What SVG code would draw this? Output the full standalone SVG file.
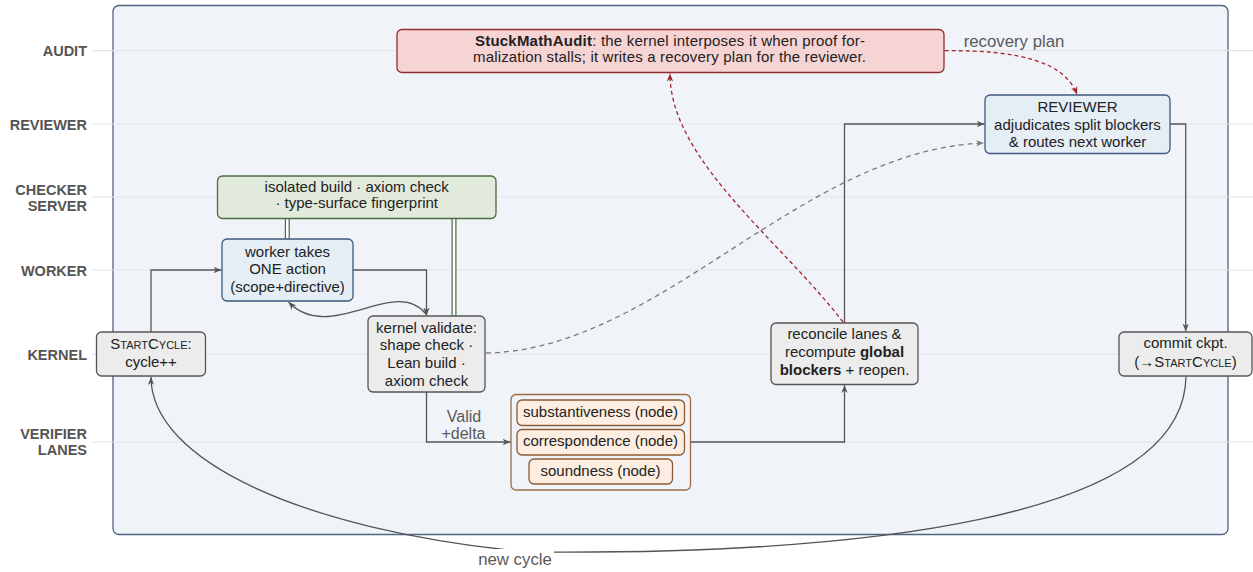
<svg xmlns="http://www.w3.org/2000/svg" width="1253" height="572" viewBox="0 0 1253 572">
<style>
text{font-family:"Liberation Sans",Arial,sans-serif;font-size:15px;fill:#222}
.lane{font-size:14.5px;font-weight:bold;fill:#555;text-anchor:end}
.c{text-anchor:middle}
.b{font-weight:bold}
.sc{font-variant:small-caps}
.lbl{fill:#5a5a5a;font-size:16.8px}
.vl{font-size:16px}
.laneline{stroke:#e2e4e8;stroke-width:1.2}
.conn{fill:none;stroke:#555;stroke-width:1.3}
.gdash{fill:none;stroke:#7a7a7a;stroke-width:1.3;stroke-dasharray:5 4}
.rdash{fill:none;stroke:#a3262a;stroke-width:1.3;stroke-dasharray:4 3}
.gray{fill:#ececec;stroke:#555;stroke-width:1.3}
.blue{fill:#e5edf5;stroke:#3e5a7e;stroke-width:1.3}
.green{fill:#e2eadc;stroke:#4b6b40;stroke-width:1.3}
.red{fill:#f7d4d4;stroke:#8f2f2f;stroke-width:1.3}
.org{fill:#fdeee1;stroke:#8c5a30;stroke-width:1.3}
.dbl1{stroke:#4b6b40;stroke-width:5;fill:none}
.dbl2{stroke:#ffffff;stroke-width:2.6;fill:none}
</style>
<defs>
<marker id="ag" viewBox="0 0 10 10" refX="10" refY="5" markerWidth="8" markerHeight="8" markerUnits="userSpaceOnUse" orient="auto"><path d="M0,1 L10,5 L0,9 L3,5 z" fill="#555"/></marker>
<marker id="ad" viewBox="0 0 10 10" refX="10" refY="5" markerWidth="8" markerHeight="8" markerUnits="userSpaceOnUse" orient="auto"><path d="M0,1 L10,5 L0,9 L3,5 z" fill="#7a7a7a"/></marker>
<marker id="ar" viewBox="0 0 10 10" refX="10" refY="5" markerWidth="8" markerHeight="8" markerUnits="userSpaceOnUse" orient="auto"><path d="M0,1 L10,5 L0,9 L3,5 z" fill="#a3262a"/></marker>
</defs>
<rect width="1253" height="572" fill="#ffffff"/>
<g id="panel">
<rect x="113" y="5.5" width="1115" height="529" rx="6" fill="#f0f4f9" stroke="#4d6482" stroke-width="1.3"/>
</g>
<g id="lanes">
<line class="laneline" x1="92" y1="50.7" x2="1253" y2="50.7"/>
<line class="laneline" x1="92" y1="124" x2="1253" y2="124"/>
<line class="laneline" x1="92" y1="197" x2="1253" y2="197"/>
<line class="laneline" x1="92" y1="270" x2="1253" y2="270"/>
<line class="laneline" x1="92" y1="354" x2="1253" y2="354"/>
<line class="laneline" x1="92" y1="442" x2="1253" y2="442"/>
<text class="lane" x="87" y="56.2">AUDIT</text>
<text class="lane" x="87" y="129.5">REVIEWER</text>
<text class="lane" x="87" y="195">CHECKER</text>
<text class="lane" x="87" y="211">SERVER</text>
<text class="lane" x="87" y="275.5">WORKER</text>
<text class="lane" x="87" y="359.5">KERNEL</text>
<text class="lane" x="87" y="439.3">VERIFIER</text>
<text class="lane" x="87" y="455.3">LANES</text>
</g>
<g id="connectors">
<path class="dbl1" d="M287.3,218.5 V239"/><path class="dbl2" d="M287.3,218.5 V239"/>
<path class="dbl1" d="M454,218.5 V316"/><path class="dbl2" d="M454,218.5 V316"/>
<path class="conn" d="M151,332 V270 H221.5" marker-end="url(#ag)"/>
<path class="conn" d="M353,270 H426.5 V315.5" marker-end="url(#ag)"/>
<path class="conn" d="M426,314 C395,275 330,345 288.5,302" marker-end="url(#ag)"/>
<path class="conn" d="M426.5,392 V442 H510.5" marker-end="url(#ag)"/>
<text class="c lbl vl" x="464" y="421.8">Valid</text>
<text class="c lbl vl" x="463.5" y="438.6">+delta</text>
<path class="conn" d="M690.5,442 H844.5 V385" marker-end="url(#ag)"/>
<path class="conn" d="M844.5,323 V124 H984.5" marker-end="url(#ag)"/>
<path class="conn" d="M1170,124 H1185.7 V331.5" marker-end="url(#ag)"/>
<path class="gdash" d="M486,353 C660,350 800,150 984,143" marker-end="url(#ad)"/>
<path class="rdash" d="M843,322 C780,240 670,160 670,73.5" marker-end="url(#ar)"/>
<path class="rdash" d="M944.5,50.7 C1020,50 1065,62 1077,94.5" marker-end="url(#ar)"/>
<text class="c lbl" x="1014" y="46.7">recovery plan</text>
<path class="conn" d="M1186,376.5 C1184,520 860,555 527,552 C300,530 151,460 151,377" marker-end="url(#ag)"/>
<rect x="476" y="549" width="78" height="20" fill="#ffffff"/>
<text class="c lbl" x="515" y="565">new cycle</text>
</g>
<g id="audit">
<rect class="red" x="397" y="29.5" width="547" height="43" rx="5"/>
<text x="475" y="45.7" textLength="390" lengthAdjust="spacing"><tspan class="b">StuckMathAudit</tspan>: the kernel interposes it when proof for-</text>
<text x="473" y="62.3" textLength="393" lengthAdjust="spacing">malization stalls; it writes a recovery plan for the reviewer.</text>
</g>
<g id="reviewer">
<rect class="blue" x="985" y="95" width="185" height="58.5" rx="5"/>
<text class="c" x="1077.5" y="112.3">REVIEWER</text>
<text class="c" x="1077.5" y="129.5">adjudicates split blockers</text>
<text class="c" x="1077.5" y="147">&amp; routes next worker</text>
</g>
<g id="checker">
<rect class="green" x="217.5" y="176" width="278.5" height="42.5" rx="5"/>
<text class="c" x="356.7" y="191.7">isolated build · axiom check</text>
<text class="c" x="356.7" y="208.3">· type-surface fingerprint</text>
</g>
<g id="worker">
<rect class="blue" x="222" y="239" width="131" height="62" rx="5"/>
<text class="c" x="287.5" y="256.7">worker takes</text>
<text class="c" x="287.5" y="274">ONE action</text>
<text class="c" x="287.5" y="292">(scope+directive)</text>
</g>
<g id="startcycle">
<rect class="gray" x="96.5" y="332" width="109" height="44" rx="5"/>
<text class="c" x="151" y="349"><tspan class="sc">StartCycle</tspan>:</text>
<text class="c" x="151" y="366.7">cycle++</text>
</g>
<g id="kernel-validate">
<rect class="gray" x="368" y="316" width="117" height="76" rx="5"/>
<text class="c" x="426.5" y="332.7">kernel validate:</text>
<text class="c" x="426.5" y="350.3">shape check ·</text>
<text class="c" x="426.5" y="368">Lean build ·</text>
<text class="c" x="426.5" y="385.7">axiom check</text>
</g>
<g id="verifier-lanes">
<rect x="511" y="394.5" width="179.5" height="95.5" rx="5" fill="#f0f4f9" stroke="#9c6b45" stroke-width="1.3"/>
<rect class="org" x="517" y="400" width="167.5" height="25.5" rx="5"/>
<text class="c" x="600.5" y="416.9">substantiveness (node)</text>
<rect class="org" x="517" y="429.5" width="167.5" height="25.5" rx="5"/>
<text class="c" x="600.5" y="446.3">correspondence (node)</text>
<rect class="org" x="529" y="459" width="143.5" height="25" rx="5"/>
<text class="c" x="600.5" y="475.7">soundness (node)</text>
</g>
<g id="reconcile">
<rect class="gray" x="771" y="323" width="147" height="61.5" rx="5"/>
<text class="c" x="844.5" y="339.3">reconcile lanes &amp;</text>
<text class="c" x="844.5" y="357.3">recompute <tspan class="b">global</tspan></text>
<text class="c" x="844.5" y="375"><tspan class="b">blockers</tspan> + reopen.</text>
</g>
<g id="commit">
<rect class="gray" x="1119" y="332" width="133" height="44" rx="5"/>
<text class="c" x="1185.5" y="348.3">commit ckpt.</text>
<text class="c" x="1185.5" y="366.7">(→<tspan class="sc">StartCycle</tspan>)</text>
</g>
</svg>
